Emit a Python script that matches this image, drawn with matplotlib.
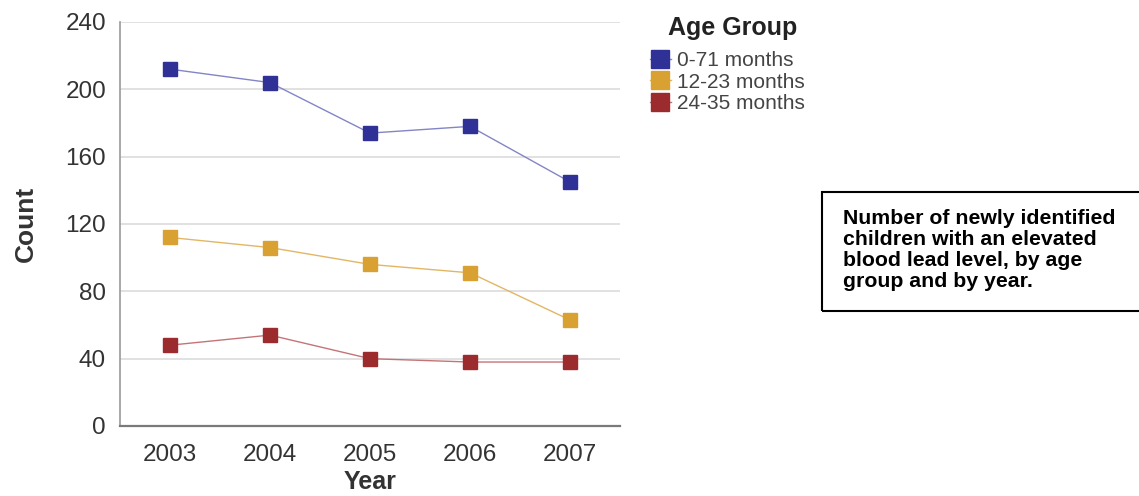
import matplotlib
matplotlib.use("Agg")
import matplotlib.pyplot as plt
from matplotlib.lines import Line2D

plt.rcParams['font.family'] = ['Liberation Sans', 'DejaVu Sans']

years = [2003, 2004, 2005, 2006, 2007]
group_labels = ["0-71 months", "12-23 months", "24-35 months"]
counts_0_71 = [212, 204, 174, 178, 145]
counts_12_23 = [112, 106, 96, 91, 63]
counts_24_35 = [48, 54, 40, 38, 38]
y_ticks = [0, 40, 80, 120, 160, 200, 240]
caption = ("Number of newly identified\nchildren with an elevated\n"
           "blood lead level, by age\ngroup and by year.")

series = [counts_0_71, counts_12_23, counts_24_35]
marker_colors = ["#2f3196", "#d9a032", "#9c2b2e"]
line_colors = ["#8385c6", "#e3b664", "#c47478"]

W, H = 1139, 496
fig = plt.figure(figsize=(W / 100, H / 100), dpi=100)
ax = fig.add_axes([120 / W, 1 - 426 / H, (620 - 120) / W, (426 - 22) / H])

for vals, mc, lc in zip(series, marker_colors, line_colors):
    ax.plot(years, vals, color=lc, lw=1.0, zorder=2)
    ax.plot(years, vals, ls="none", marker="s", markersize=10,
            markerfacecolor=mc, markeredgecolor=mc, zorder=3)

ax.set_xlim(2002.5, 2007.5)
ax.set_ylim(0, 240)
ax.set_yticks(y_ticks)
ax.set_xticks(years)
ax.set_xticklabels([str(y) for y in years])
ax.tick_params(axis='both', labelsize=17.5, colors="#333333", length=0)
ax.tick_params(axis='y', pad=10)
ax.tick_params(axis='x', pad=13)
ax.grid(axis='y', color="#dcdcdc", lw=1.2)
ax.set_axisbelow(True)
for s in ["top", "right"]:
    ax.spines[s].set_visible(False)
ax.spines["left"].set_color("#9a9a9a")
ax.spines["left"].set_linewidth(1.2)
ax.spines["bottom"].set_color("#7a7a7a")
ax.spines["bottom"].set_linewidth(1.6)

ax.set_xlabel("Year", fontsize=18, fontweight="bold", color="#333333", labelpad=3)
ax.set_ylabel("Count", fontsize=19, fontweight="bold", color="#333333", labelpad=20)

# legend
fig.text(733 / W, 1 - 28 / H, "Age Group", fontsize=18, fontweight="bold",
         color="#222222", ha="center", va="center")
handles = [Line2D([], [], color=lc, lw=1, marker="s", markersize=13.5,
                  markerfacecolor=mc, markeredgecolor=mc)
           for mc, lc in zip(marker_colors, line_colors)]
fig.legend(handles, group_labels, loc="upper left",
           bbox_to_anchor=(650 / W, 1 - 51 / H), frameon=False,
           fontsize=15, handlelength=1.0, handletextpad=0.3,
           labelspacing=0.12, borderpad=0, borderaxespad=0,
           labelcolor="#444444")

# caption box
box_left, box_top, box_bottom = 822, 192, 311
rect = plt.Rectangle((box_left / W, 1 - box_bottom / H),
                     (W + 5 - box_left) / W, (box_bottom - box_top) / H,
                     transform=fig.transFigure, fill=False, ec="black", lw=1.5,
                     clip_on=False)
fig.add_artist(rect)
fig.text(843 / W, 1 - 250 / H, caption, fontsize=15.3, fontweight="bold",
         ha="left", va="center", linespacing=1.14, color="black")

fig.savefig("out.png", dpi=100)
